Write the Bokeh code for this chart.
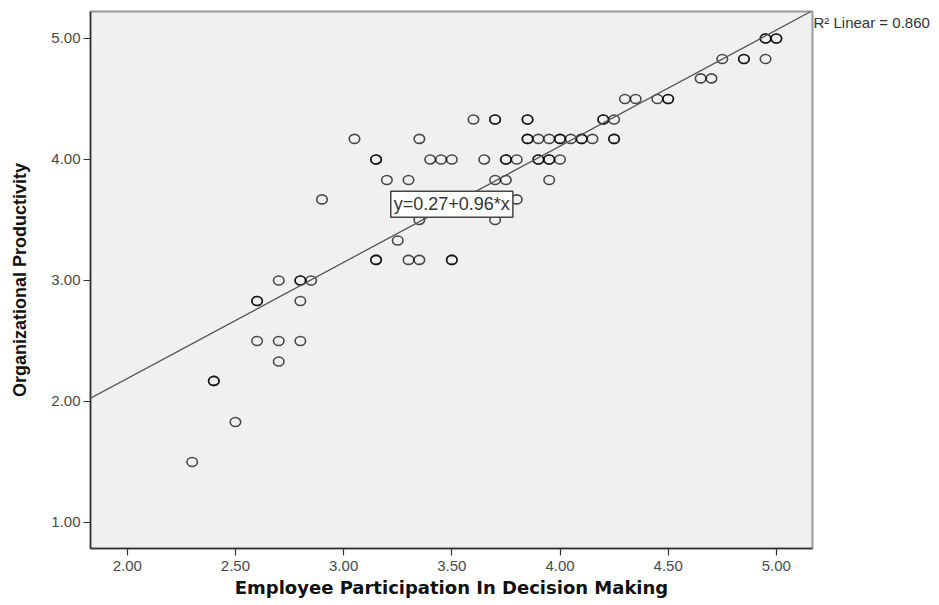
from bokeh.plotting import figure
from bokeh.models import Range1d, FixedTicker, NumeralTickFormatter, Slope, Label, LinearAxis
from bokeh.embed import file_html
from bokeh.resources import INLINE

# ---- data ----
participation = [
    2.30, 2.40, 2.40, 2.50, 2.60, 2.60, 2.60, 2.70, 2.70, 2.70,
    2.80, 2.80, 2.80, 2.80, 2.85, 2.90, 3.05, 3.15, 3.15, 3.15,
    3.15, 3.20, 3.25, 3.30, 3.30, 3.35, 3.35, 3.35, 3.40, 3.45,
    3.50, 3.50, 3.50, 3.60, 3.65, 3.70, 3.70, 3.70, 3.70, 3.75,
    3.75, 3.75, 3.80, 3.80, 3.85, 3.85, 3.85, 3.85, 3.90, 3.90,
    3.90, 3.95, 3.95, 3.95, 3.95, 4.00, 4.00, 4.00, 4.05, 4.10,
    4.10, 4.15, 4.20, 4.20, 4.25, 4.25, 4.25, 4.30, 4.35, 4.45,
    4.50, 4.50, 4.65, 4.70, 4.75, 4.85, 4.85, 4.95, 4.95, 4.95,
    5.00, 5.00,
]
productivity = [
    1.50, 2.17, 2.17, 1.83, 2.50, 2.83, 2.83, 2.33, 2.50, 3.00,
    2.50, 2.83, 3.00, 3.00, 3.00, 3.67, 4.17, 3.17, 3.17, 4.00,
    4.00, 3.83, 3.33, 3.17, 3.83, 3.17, 3.50, 4.17, 4.00, 4.00,
    3.17, 3.17, 4.00, 4.33, 4.00, 3.50, 3.83, 4.33, 4.33, 3.83,
    4.00, 4.00, 3.67, 4.00, 4.17, 4.17, 4.33, 4.33, 4.00, 4.00,
    4.17, 3.83, 4.00, 4.00, 4.17, 4.00, 4.17, 4.17, 4.17, 4.17,
    4.17, 4.17, 4.33, 4.33, 4.17, 4.17, 4.33, 4.50, 4.50, 4.50,
    4.50, 4.50, 4.67, 4.67, 4.83, 4.83, 4.83, 4.83, 5.00, 5.00,
    5.00, 5.00,
]
intercept = 0.27
gradient = 0.96
r_squared = 0.860
x_ticks = [2.0, 2.5, 3.0, 3.5, 4.0, 4.5, 5.0]
y_ticks = [1.0, 2.0, 3.0, 4.0, 5.0]
x_title = "Employee Participation In Decision Making"
y_title = "Organizational Productivity"
fit_text = f"y={intercept:.2f}+{gradient:.2f}*x"
r2_text = f"R\u00b2 Linear = {r_squared:.3f}"

p = figure(
    width=935, height=601,
    x_range=Range1d(1.830, 5.167), y_range=Range1d(0.785, 5.223),
    output_backend="svg", toolbar_location=None,
    min_border_left=90, min_border_right=123,
    min_border_top=11, min_border_bottom=53,
)
p.background_fill_color = "#f0f0f0"
p.border_fill_color = "white"
p.outline_line_color = "#9a9a9a"
p.outline_line_width = 2
p.xgrid.visible = False
p.ygrid.visible = False

for ax, ticks in ((p.xaxis[0], x_ticks), (p.yaxis[0], y_ticks)):
    ax.ticker = FixedTicker(ticks=ticks)
    ax.formatter = NumeralTickFormatter(format="0.00")
    ax.axis_line_color = "#333333"
    ax.axis_line_width = 1.5
    ax.major_tick_line_color = "#333333"
    ax.major_tick_line_width = 1.2
    ax.major_tick_out = 7
    ax.major_tick_in = 0
    ax.minor_tick_line_color = None
    ax.major_label_text_font = "Liberation Sans"
    ax.major_label_text_font_size = "15px"
    ax.major_label_text_color = "#4a4a4a"
    ax.axis_label_text_color = "#111111"
    ax.axis_label_text_font_style = "bold"

p.xaxis.major_label_standoff = 5
p.yaxis.major_label_standoff = 3

p.xaxis.axis_label = x_title
p.xaxis.axis_label_text_font = "DejaVu Sans"
p.xaxis.axis_label_text_font_size = "18px"
p.xaxis.axis_label_standoff = 3

p.yaxis.axis_label = y_title
p.yaxis.axis_label_text_font = "Liberation Sans"
p.yaxis.axis_label_text_font_size = "18px"
p.yaxis.axis_label_standoff = 18

# R-squared note beside the top right corner, as a single right-hand tick label
r2_y = 5.13
r2_axis = LinearAxis(
    ticker=FixedTicker(ticks=[r2_y]),
    major_label_overrides={r2_y: r2_text},
    axis_line_color=None, major_tick_line_color=None, minor_tick_line_color=None,
    major_tick_out=0, major_tick_in=0,
    major_label_standoff=1,
    major_label_text_font="Liberation Sans", major_label_text_font_size="15px",
    major_label_text_color="#333333",
)
p.add_layout(r2_axis, "right")

p.add_layout(Slope(gradient=gradient, y_intercept=intercept,
                   line_color="#555555", line_width=1.3))

p.ellipse(x=participation, y=productivity, width=10.5, height=9,
          width_units="screen", height_units="screen",
          fill_color=None, line_color="black", line_alpha=0.7, line_width=1.6)

mid_x = 3.5
p.add_layout(Label(
    x=mid_x, y=intercept + gradient * mid_x,
    text=fit_text,
    text_align="center", text_baseline="middle",
    text_font="Liberation Sans", text_font_size="18px", text_color="#333333",
    background_fill_color="white", border_line_color="#444444",
    border_line_width=1.5, padding=3,
))

open("out.html", "w").write(file_html(p, INLINE))
